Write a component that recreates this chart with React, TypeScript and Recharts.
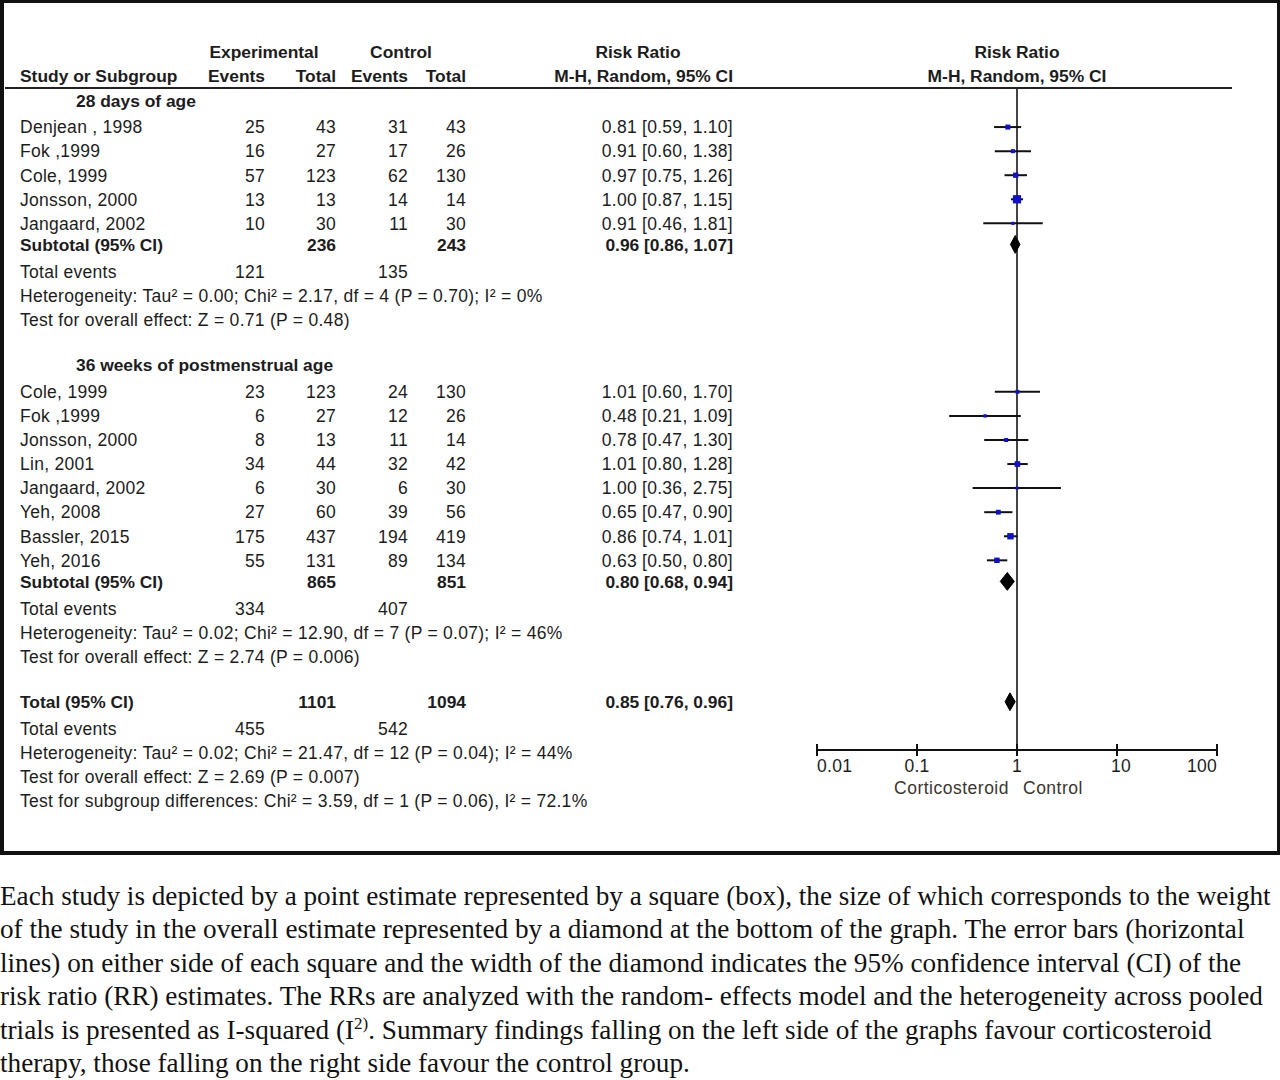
import React from 'react';
import { ComposedChart, XAxis, YAxis, Scatter, ReferenceLine } from 'recharts';

// ---------- data ----------
const g1Name = '28 days of age';
const g1Studies = ['Denjean , 1998', 'Fok ,1999', 'Cole, 1999', 'Jonsson, 2000', 'Jangaard, 2002'];
const g1ExpEvents = [25, 16, 57, 13, 10];
const g1ExpTotal = [43, 27, 123, 13, 30];
const g1CtlEvents = [31, 17, 62, 14, 11];
const g1CtlTotal = [43, 26, 130, 14, 30];
const g1RR = [0.81, 0.91, 0.97, 1.0, 0.91];
const g1Low = [0.59, 0.6, 0.75, 0.87, 0.46];
const g1High = [1.1, 1.38, 1.26, 1.15, 1.81];
const g1Weight = [14.2, 6.4, 16.5, 60.9, 2.0];
const g1Sub = [0.96, 0.86, 1.07];
const g1Totals = [236, 243];
const g1Events = [121, 135];
const g1Het = 'Heterogeneity: Tau² = 0.00; Chi² = 2.17, df = 4 (P = 0.70); I² = 0%';
const g1Test = 'Test for overall effect: Z = 0.71 (P = 0.48)';

const g2Name = '36 weeks of postmenstrual age';
const g2Studies = ['Cole, 1999', 'Fok ,1999', 'Jonsson, 2000', 'Lin, 2001', 'Jangaard, 2002', 'Yeh, 2008', 'Bassler, 2015', 'Yeh, 2016'];
const g2ExpEvents = [23, 6, 8, 34, 6, 27, 175, 55];
const g2ExpTotal = [123, 27, 13, 44, 30, 60, 437, 131];
const g2CtlEvents = [24, 12, 11, 32, 6, 39, 194, 89];
const g2CtlTotal = [130, 26, 14, 42, 30, 56, 419, 134];
const g2RR = [1.01, 0.48, 0.78, 1.01, 1.0, 0.65, 0.86, 0.63];
const g2Low = [0.6, 0.21, 0.47, 0.8, 0.36, 0.47, 0.74, 0.5];
const g2High = [1.7, 1.09, 1.3, 1.28, 2.75, 0.9, 1.01, 0.8];
const g2Weight = [5.5, 2.8, 6.4, 20.7, 1.5, 12.6, 30.0, 18.5];
const g2Sub = [0.8, 0.68, 0.94];
const g2Totals = [865, 851];
const g2Events = [334, 407];
const g2Het = 'Heterogeneity: Tau² = 0.02; Chi² = 12.90, df = 7 (P = 0.07); I² = 46%';
const g2Test = 'Test for overall effect: Z = 2.74 (P = 0.006)';

const allSum = [0.85, 0.76, 0.96];
const allTotals = [1101, 1094];
const allEvents = [455, 542];
const allHet = 'Heterogeneity: Tau² = 0.02; Chi² = 21.47, df = 12 (P = 0.04); I² = 44%';
const allTest = 'Test for overall effect: Z = 2.69 (P = 0.007)';
const subgroupTest = 'Test for subgroup differences: Chi² = 3.59, df = 1 (P = 0.06), I² = 72.1%';

const axisTicks = [0.01, 0.1, 1, 10, 100];
const axisTickLabels = ['0.01', '0.1', '1', '10', '100'];
const favourLeft = 'Corticosteroid';
const favourRight = 'Control';

// row positions (table rows, in row units)
const g1Rows = [1, 2, 3, 4, 5];
const g2Rows = [12, 13, 14, 15, 16, 17, 18, 19];
const SUB1_ROW = 5.875;
const SUB2_ROW = 19.875;
const TOTAL_ROW = 24.875;
const AXIS_ROW = 26.88;
const HEADER_LINE_ROW = -0.62;
const FAVOUR_ROW = 28.46;

const captionLines = [
  'Each study is depicted by a point estimate represented by a square (box), the size of which corresponds to the weight',
  'of the study in the overall estimate represented by a diamond at the bottom of the graph. The error bars (horizontal',
  'lines) on either side of each square and the width of the diamond indicates the 95% confidence interval (CI) of the',
  'risk ratio (RR) estimates. The RRs are analyzed with the random- effects model and the heterogeneity across pooled',
  'trials is presented as I-squared (I',
  'therapy, those falling on the right side favour the control group.',
];
const captionLine5Sup = '2)';
const captionLine5Rest = '. Summary findings falling on the left side of the graphs favour corticosteroid';

// ---------- derived tables ----------
const fmtRR = (r: number[]) => `${r[0].toFixed(2)} [${r[1].toFixed(2)}, ${r[2].toFixed(2)}]`;

type TextRow = { x: number; row: number; kind: string; [k: string]: any };

const textRows: TextRow[] = [
  { x: 1, row: -2.12, kind: 'head1' },
  { x: 1, row: -1.12, kind: 'head2' },
  { x: 1, row: -0.08, kind: 'group', label: g1Name },
  ...g1Studies.map((s, i) => ({
    x: 1, row: g1Rows[i], kind: 'study', label: s,
    ee: g1ExpEvents[i], et: g1ExpTotal[i], ce: g1CtlEvents[i], ct: g1CtlTotal[i],
    rr: fmtRR([g1RR[i], g1Low[i], g1High[i]]),
  })),
  { x: 1, row: SUB1_ROW, kind: 'sub', label: 'Subtotal (95% CI)', et: g1Totals[0], ct: g1Totals[1], rr: fmtRR(g1Sub) },
  { x: 1, row: 7, kind: 'events', ee: g1Events[0], ce: g1Events[1] },
  { x: 1, row: 8, kind: 'note', label: g1Het },
  { x: 1, row: 9, kind: 'note', label: g1Test },
  { x: 1, row: 10.88, kind: 'group', label: g2Name },
  ...g2Studies.map((s, i) => ({
    x: 1, row: g2Rows[i], kind: 'study', label: s,
    ee: g2ExpEvents[i], et: g2ExpTotal[i], ce: g2CtlEvents[i], ct: g2CtlTotal[i],
    rr: fmtRR([g2RR[i], g2Low[i], g2High[i]]),
  })),
  { x: 1, row: SUB2_ROW, kind: 'sub', label: 'Subtotal (95% CI)', et: g2Totals[0], ct: g2Totals[1], rr: fmtRR(g2Sub) },
  { x: 1, row: 21, kind: 'events', ee: g2Events[0], ce: g2Events[1] },
  { x: 1, row: 22, kind: 'note', label: g2Het },
  { x: 1, row: 23, kind: 'note', label: g2Test },
  { x: 1, row: TOTAL_ROW, kind: 'sub', label: 'Total (95% CI)', et: allTotals[0], ct: allTotals[1], rr: fmtRR(allSum) },
  { x: 1, row: 26, kind: 'events', ee: allEvents[0], ce: allEvents[1] },
  { x: 1, row: 27, kind: 'note', label: allHet },
  { x: 1, row: 28, kind: 'note', label: allTest },
  { x: 1, row: 29, kind: 'note', label: subgroupTest },
];

const studyPoints = [
  ...g1RR.map((r, i) => ({ x: r, row: g1Rows[i], w: g1Weight[i] })),
  ...g2RR.map((r, i) => ({ x: r, row: g2Rows[i], w: g2Weight[i] })),
];

const ciPoints = [
  ...g1RR.flatMap((_, i) => [{ x: g1Low[i], row: g1Rows[i] }, { x: g1High[i], row: g1Rows[i] }]),
  ...g2RR.flatMap((_, i) => [{ x: g2Low[i], row: g2Rows[i] }, { x: g2High[i], row: g2Rows[i] }]),
];

const DIAMOND_HALF = 0.37;
const diamondOf = (s: number[], row: number) => [
  { x: s[1], row },
  { x: s[0], row: row - DIAMOND_HALF },
  { x: s[2], row },
  { x: s[0], row: row + DIAMOND_HALF },
];
const diamondPoints = [...diamondOf(g1Sub, SUB1_ROW), ...diamondOf(g2Sub, SUB2_ROW), ...diamondOf(allSum, TOTAL_ROW)];

const tickPoints = axisTicks.map((v, i) => ({ x: v, row: AXIS_ROW, label: axisTickLabels[i], i }));
const favourPoints = [{ x: 1, row: FAVOUR_ROW }];

// ---------- styling ----------
const FONT = '"Liberation Sans", Arial, sans-serif';
const SERIF = '"Liberation Serif", "Times New Roman", serif';
const TXT = '#1c1c1c';
const FS = 17.5;
const FSB = 17.4;
const LS = 0.28;
const COL = { name: 20, sub: 76, ee: 265, et: 336, ce: 408, ct: 466, rr: 733, expHead: 264, ctlHead: 401, rrHead: 638 };

const W = 1280;
const H = 855;
const ROW0 = 103;
const ROWH = 24.07;
const Y_DOMAIN: [number, number] = [-3, 30];
const PLOT_LEFT = 817;
const PLOT_RIGHT = 1217;
const plotTop = ROW0 + Y_DOMAIN[0] * ROWH;
const plotBottom = ROW0 + Y_DOMAIN[1] * ROWH;

const T = (p: any) => {
  const { x, y, anchor = 'start', bold = false, children, size } = p;
  return (
    <text
      x={x}
      y={y}
      dy="0.36em"
      textAnchor={anchor}
      fontFamily={FONT}
      fontSize={size ?? (bold ? FSB : FS)}
      fontWeight={bold ? 700 : 400}
      letterSpacing={bold ? 0 : LS}
      fill={TXT}
    >
      {children}
    </text>
  );
};

function RowShape(props: any) {
  const { cx, cy, payload: p } = props;
  if (cy == null) return <g />;
  switch (p.kind) {
    case 'head1':
      return (
        <g>
          <T x={COL.expHead} y={cy} anchor="middle" bold>Experimental</T>
          <T x={COL.ctlHead} y={cy} anchor="middle" bold>Control</T>
          <T x={COL.rrHead} y={cy} anchor="middle" bold>Risk Ratio</T>
          <T x={cx} y={cy} anchor="middle" bold>Risk Ratio</T>
        </g>
      );
    case 'head2':
      return (
        <g>
          <T x={COL.name} y={cy} bold>Study or Subgroup</T>
          <T x={COL.ee} y={cy} anchor="end" bold>Events</T>
          <T x={COL.et} y={cy} anchor="end" bold>Total</T>
          <T x={COL.ce} y={cy} anchor="end" bold>Events</T>
          <T x={COL.ct} y={cy} anchor="end" bold>Total</T>
          <T x={COL.rr} y={cy} anchor="end" bold>M-H, Random, 95% CI</T>
          <T x={cx} y={cy} anchor="middle" bold>M-H, Random, 95% CI</T>
          <line x1={5} x2={1232} y1={cy + 12} y2={cy + 12} stroke="#222" strokeWidth={2} />
        </g>
      );
    case 'group':
      return <T x={COL.sub} y={cy} bold>{p.label}</T>;
    case 'study':
      return (
        <g>
          <T x={COL.name} y={cy}>{p.label}</T>
          <T x={COL.ee} y={cy} anchor="end">{p.ee}</T>
          <T x={COL.et} y={cy} anchor="end">{p.et}</T>
          <T x={COL.ce} y={cy} anchor="end">{p.ce}</T>
          <T x={COL.ct} y={cy} anchor="end">{p.ct}</T>
          <T x={COL.rr} y={cy} anchor="end">{p.rr}</T>
        </g>
      );
    case 'sub':
      return (
        <g>
          <T x={COL.name} y={cy} bold>{p.label}</T>
          <T x={COL.et} y={cy} anchor="end" bold>{p.et}</T>
          <T x={COL.ct} y={cy} anchor="end" bold>{p.ct}</T>
          <T x={COL.rr} y={cy} anchor="end" bold>{p.rr}</T>
        </g>
      );
    case 'events':
      return (
        <g>
          <T x={COL.name} y={cy}>Total events</T>
          <T x={COL.ee} y={cy} anchor="end">{p.ee}</T>
          <T x={COL.ce} y={cy} anchor="end">{p.ce}</T>
        </g>
      );
    case 'note':
      return <T x={COL.name} y={cy}>{p.label}</T>;
    default:
      return <g />;
  }
}

const SquareShape = (props: any) => {
  const { cx, cy, payload } = props;
  if (cx == null || cy == null) return <g />;
  const side = 2 + 0.8 * Math.sqrt(payload.w);
  return <rect x={cx - side / 2} y={cy - side / 2} width={side} height={side} fill="#1010c8" />;
};

const Empty = () => <g />;

const ciLine = (lp: any) => {
  const pts = lp.points || [];
  const segs = [];
  for (let i = 0; i + 1 < pts.length; i += 2) {
    segs.push(
      <line key={i} x1={pts[i].x} y1={pts[i].y} x2={pts[i + 1].x} y2={pts[i + 1].y} stroke="#111" strokeWidth={2} />
    );
  }
  return <g>{segs}</g>;
};

const diamondLine = (lp: any) => {
  const pts = lp.points || [];
  const polys = [];
  for (let i = 0; i + 3 < pts.length; i += 4) {
    const s = pts.slice(i, i + 4).map((q: any) => `${q.x},${q.y}`).join(' ');
    polys.push(<polygon key={i} points={s} fill="#000" stroke="#000" strokeWidth={1} />);
  }
  return <g>{polys}</g>;
};

const TickShape = (props: any) => {
  const { cx, cy, payload } = props;
  if (cx == null) return <g />;
  const last = axisTicks.length - 1;
  const anchor = payload.i === 0 ? 'start' : payload.i === last ? 'end' : 'middle';
  const dx = payload.i === 3 ? 4 : 0;
  return (
    <g>
      <line x1={cx} x2={cx} y1={cy - 6} y2={cy + 6} stroke="#111" strokeWidth={2} />
      <text x={cx + dx} y={cy + 16} dy="0.36em" textAnchor={anchor} fontFamily={FONT} fontSize={FS} letterSpacing={LS} fill={TXT}>
        {payload.label}
      </text>
    </g>
  );
};

const FavourShape = (props: any) => {
  const { cx, cy } = props;
  if (cx == null) return <g />;
  return (
    <g>
      <text x={cx - 8} y={cy} dy="0.36em" textAnchor="end" fontFamily={FONT} fontSize={FS} letterSpacing={0.5} fill="#3a3530">{favourLeft}</text>
      <text x={cx + 6} y={cy} dy="0.36em" textAnchor="start" fontFamily={FONT} fontSize={FS} letterSpacing={0.5} fill="#3a3530">{favourRight}</text>
    </g>
  );
};

export default function App() {
  return (
    <div style={{ position: 'absolute', left: 0, top: 0, width: 1280, height: 1080, background: '#fff', overflow: 'hidden' }}>
      <div
        style={{
          position: 'absolute', left: 0, top: 0, width: W, height: H, boxSizing: 'border-box',
          borderLeft: '4px solid #111', borderTop: '3px solid #111', borderRight: '3px solid #111', borderBottom: '4px solid #111',
        }}
      />
      <div style={{ position: 'absolute', left: 0, top: 0 }}>
        <ComposedChart
          width={W}
          height={H}
          margin={{ left: PLOT_LEFT, right: W - PLOT_RIGHT, top: plotTop, bottom: H - plotBottom }}
        >
          <XAxis type="number" dataKey="x" scale="log" domain={[0.01, 100]} hide height={0} />
          <YAxis type="number" dataKey="row" domain={Y_DOMAIN} reversed hide width={0} />
          <ReferenceLine
            segment={[{ x: 1, y: HEADER_LINE_ROW }, { x: 1, y: AXIS_ROW }]}
            stroke="#444"
            strokeWidth={2}
          />
          <ReferenceLine
            segment={[{ x: 0.01, y: AXIS_ROW }, { x: 100, y: AXIS_ROW }]}
            stroke="#111"
            strokeWidth={2}
          />
          <Scatter data={textRows} shape={RowShape} isAnimationActive={false} />
          <Scatter data={tickPoints} shape={TickShape} isAnimationActive={false} />
          <Scatter data={favourPoints} shape={FavourShape} isAnimationActive={false} />
          <Scatter data={ciPoints} shape={Empty} line={ciLine} lineType="joint" isAnimationActive={false} />
          <Scatter data={studyPoints} shape={SquareShape} isAnimationActive={false} />
          <Scatter data={diamondPoints} shape={Empty} line={diamondLine} lineType="joint" isAnimationActive={false} />
        </ComposedChart>
      </div>
      <div
        style={{
          position: 'absolute', left: 0, top: 880, fontFamily: SERIF, fontSize: 27.2, lineHeight: '33.4px',
          color: '#111', whiteSpace: 'nowrap',
        }}
      >
        {captionLines.map((l, i) => (
          <div key={i}>
            {l}
            {i === 4 ? (
              <>
                <sup style={{ fontSize: 17, lineHeight: 0 }}>{captionLine5Sup}</sup>
                {captionLine5Rest}
              </>
            ) : null}
          </div>
        ))}
      </div>
    </div>
  );
}
